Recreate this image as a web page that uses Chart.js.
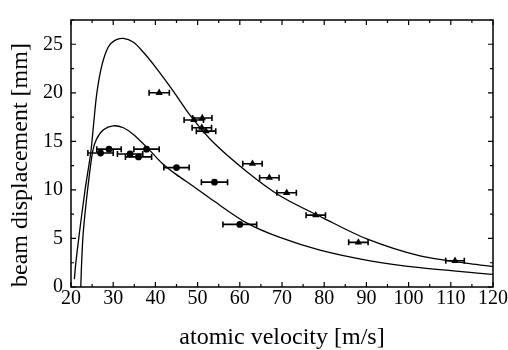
<!DOCTYPE html>
<html>
<head>
<meta charset="utf-8">
<script src="https://cdn.jsdelivr.net/npm/chart.js@4"></script>
<style>
  html, body { margin: 0; padding: 0; background: #fff; }
  #wrap { width: 508px; height: 350px; }
</style>
</head>
<body>
<div id="wrap"><canvas id="c" width="508" height="350"></canvas></div>
<script>
// ---- data ----
const xTicks = [20, 30, 40, 50, 60, 70, 80, 90, 100, 110, 120];
const yTicks = [0, 5, 10, 15, 20, 25];

// measured points, circles
const velCircle  = [27.0, 29.0, 34.0, 36.0, 37.9, 45.0, 54.0, 60.0];
const dispCircle = [13.8, 14.2, 13.7, 13.4, 14.2, 12.3, 10.8, 6.45];
const errCircle  = [3.0, 2.9, 3.0, 3.1, 3.0, 3.0, 3.1, 4.0];

// measured points, triangles
const velTri  = [40.9, 49.1, 51.1, 51.0, 52.0, 63.0, 67.0, 71.1, 78.0, 88.1, 111.0];
const dispTri = [20.0, 17.2, 17.4, 16.4, 16.05, 12.7, 11.25, 9.7, 7.4, 4.6, 2.7];
const errTri  = [2.4, 2.3, 2.3, 2.3, 2.3, 2.3, 2.3, 2.3, 2.3, 2.3, 2.2];

// theory curve, upper (traced)
const velUpper  = [20.8, 21.1, 22.0, 23.3, 24.7, 25.3, 26.1, 27.3, 28.8, 30.4, 32.4, 34.8, 37.1, 40.3, 44.2, 48.2, 53.7, 61.6, 69.5, 79.8, 90.1, 102.7, 114.5, 120];
const dispUpper = [0.8, 2.3, 5.6, 9.9, 13.9, 16.5, 19.9, 22.8, 24.7, 25.4, 25.6, 25.2, 24.2, 22.5, 20.2, 17.7, 14.9, 11.9, 9.4, 7.1, 4.95, 3.2, 2.4, 2.1];

// theory curve, lower (traced)
const velLower  = [22.3, 22.5, 22.9, 23.9, 25.1, 26.0, 27.7, 30.0, 32.4, 34.8, 38.6, 41.7, 44.9, 49.2, 53.7, 61.6, 69.5, 79.0, 90.9, 102.7, 120];
const dispLower = [-0.3, 2.3, 5.6, 9.9, 13.9, 15.2, 16.2, 16.6, 16.4, 15.7, 14.1, 12.7, 11.6, 10.3, 8.9, 6.6, 5.1, 3.8, 2.7, 2.0, 1.3];

const pts = (xs, ys) => xs.map((x, i) => ({ x: x, y: ys[i] }));

const SERIF = "'Liberation Serif', 'Times New Roman', serif";

// error bars (horizontal) drawn through the library's scales
const errorBars = {
  id: 'errorBars',
  afterDatasetsDraw(chart) {
    const ctx = chart.ctx, xs = chart.scales.x, ys = chart.scales.y;
    ctx.save();
    ctx.strokeStyle = '#000';
    ctx.lineWidth = 1.6;
    chart.data.datasets.forEach(ds => {
      if (!ds.errX) return;
      ds.data.forEach((p, i) => {
        const e = ds.errX[i];
        const x0 = xs.getPixelForValue(p.x - e);
        const x1 = xs.getPixelForValue(p.x + e);
        const y = ys.getPixelForValue(p.y);
        ctx.beginPath();
        ctx.moveTo(x0, y); ctx.lineTo(x1, y);
        ctx.moveTo(x0, y - 3); ctx.lineTo(x0, y + 3);
        ctx.moveTo(x1, y - 3); ctx.lineTo(x1, y + 3);
        ctx.stroke();
      });
    });
    ctx.restore();
  }
};

// frame with inward ticks on all four sides
const frame = {
  id: 'frame',
  afterDraw(chart) {
    const ctx = chart.ctx, a = chart.chartArea, xs = chart.scales.x, ys = chart.scales.y;
    ctx.save();
    ctx.strokeStyle = '#000';
    ctx.lineWidth = 1.5;
    ctx.strokeRect(a.left, a.top, a.right - a.left, a.bottom - a.top);
    ctx.lineWidth = 1.2;
    ctx.beginPath();
    xTicks.forEach((v, i) => {
      const px = xs.getPixelForValue(v);
      ctx.moveTo(px, a.bottom); ctx.lineTo(px, a.bottom - 5);
      ctx.moveTo(px, a.top); ctx.lineTo(px, a.top + 5);
      if (i < xTicks.length - 1) {
        const pm = xs.getPixelForValue((v + xTicks[i + 1]) / 2);
        ctx.moveTo(pm, a.bottom); ctx.lineTo(pm, a.bottom - 3);
        ctx.moveTo(pm, a.top); ctx.lineTo(pm, a.top + 3);
      }
    });
    const yAll = yTicks.concat([yTicks[yTicks.length - 1] + 5]);
    yAll.forEach((v, i) => {
      if (i < yTicks.length) {
        const py = ys.getPixelForValue(v);
        ctx.moveTo(a.left, py); ctx.lineTo(a.left + 5, py);
        ctx.moveTo(a.right, py); ctx.lineTo(a.right - 5, py);
      }
      if (i < yAll.length - 1) {
        const mv = (v + yAll[i + 1]) / 2;
        if (mv <= ys.max) {
          const pm = ys.getPixelForValue(mv);
          ctx.moveTo(a.left, pm); ctx.lineTo(a.left + 3, pm);
          ctx.moveTo(a.right, pm); ctx.lineTo(a.right - 3, pm);
        }
      }
    });
    ctx.stroke();
    ctx.restore();
  }
};

new Chart(document.getElementById('c'), {
  type: 'scatter',
  data: {
    datasets: [
      { label: 'theory upper', data: pts(velUpper, dispUpper), showLine: true,
        borderColor: '#000', borderWidth: 1.3, pointRadius: 0, fill: false,
        tension: 0.3 },
      { label: 'theory lower', data: pts(velLower, dispLower), showLine: true,
        borderColor: '#000', borderWidth: 1.3, pointRadius: 0, fill: false,
        tension: 0.3 },
      { label: 'circles', data: pts(velCircle, dispCircle), errX: errCircle,
        pointStyle: 'circle', pointRadius: 3.4, backgroundColor: '#000',
        borderColor: '#000', borderWidth: 0 },
      { label: 'triangles', data: pts(velTri, dispTri), errX: errTri,
        pointStyle: 'triangle', pointRadius: 4.2, backgroundColor: '#000',
        borderColor: '#000', borderWidth: 0 }
    ]
  },
  options: {
    responsive: false,
    animation: false,
    devicePixelRatio: 1,
    layout: { padding: { left: 0, top: 9, right: 15, bottom: 0 } },
    plugins: { legend: { display: false }, tooltip: { enabled: false } },
    scales: {
      x: {
        type: 'linear', min: 20, max: 120,
        grid: { display: false, drawTicks: false },
        border: { display: false },
        afterBuildTicks: s => { s.ticks = xTicks.map(v => ({ value: v })); },
        afterFit: s => { s.height = 63; },
        ticks: { color: '#000', padding: 0, maxRotation: 0, autoSkip: false,
                 font: { family: SERIF, size: 20 } },
        title: { display: true, text: 'atomic velocity [m/s]', color: '#000',
                 font: { family: SERIF, size: 24, lineHeight: 1 },
                 padding: { top: 0, bottom: 0 } }
      },
      y: {
        type: 'linear', min: 0, max: 27.5,
        grid: { display: false, drawTicks: false },
        border: { display: false },
        afterBuildTicks: s => { s.ticks = yTicks.map(v => ({ value: v })); },
        afterFit: s => { s.width = 71; },
        ticks: { color: '#000', padding: 8, autoSkip: false,
                 font: { family: SERIF, size: 20 } },
        title: { display: true, text: 'beam displacement [mm]', color: '#000', align: 'start',
                 font: { family: SERIF, size: 24, lineHeight: 1 },
                 padding: { top: 9, bottom: 0 } }
      }
    }
  },
  plugins: [errorBars, frame]
});
</script>
</body>
</html>
